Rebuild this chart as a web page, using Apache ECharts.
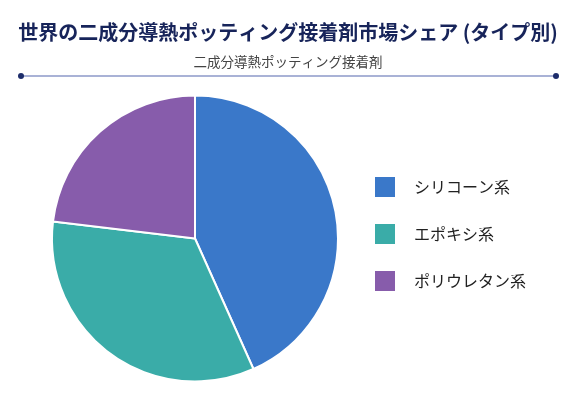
<!DOCTYPE html>
<html>
<head>
<meta charset="utf-8">
<script src="https://cdn.jsdelivr.net/npm/echarts@6/dist/echarts.min.js"></script>
<style>
  html, body { margin: 0; padding: 0; background: #fff; }
  #chart { width: 576px; height: 400px; }
</style>
</head>
<body>
<div id="chart"></div>
<script>
// データ
var categories = ['シリコーン系', 'エポキシ系', 'ポリウレタン系'];
var shares = [43.3, 33.6, 23.1];
var colors = ['#3a78c9', '#3aaca8', '#875cab'];

var chart = echarts.init(document.getElementById('chart'));

var pieData = categories.map(function (name, i) {
    return { name: name, value: shares[i], itemStyle: { color: colors[i] } };
});

var option = {
    backgroundColor: '#ffffff',
    textStyle: { fontFamily: 'Noto Sans CJK JP' },
    title: [{
        text: '世界の二成分導熱ポッティング接着剤市場シェア (タイプ別)',
        left: 'center',
        top: 17,
        textStyle: { fontSize: 20, fontWeight: 'bold', color: '#17245a', fontFamily: 'Noto Sans CJK JP' }
    }, {
        text: '二成分導熱ポッティング接着剤',
        left: 'center',
        top: 50,
        textStyle: { fontSize: 13.5, fontWeight: 'normal', color: '#444444', fontFamily: 'Noto Sans CJK JP' }
    }],
    graphic: [
        { type: 'line', shape: { x1: 21, y1: 76, x2: 556, y2: 76 }, style: { stroke: '#8c99c9', lineWidth: 1.5 } },
        { type: 'circle', shape: { cx: 21, cy: 76, r: 3 }, style: { fill: '#1d2d6b' } },
        { type: 'circle', shape: { cx: 556, cy: 76, r: 3 }, style: { fill: '#1d2d6b' } }
    ],
    legend: {
        orient: 'vertical',
        left: 373,
        top: 175,
        padding: 0,
        itemWidth: 22,
        itemHeight: 22,
        itemGap: 23,
        icon: 'rect',
        textStyle: { fontSize: 16, lineHeight: 22, color: '#222222', padding: [0, 0, 0, 13], fontFamily: 'Noto Sans CJK JP' },
        data: categories
    },
    series: [{
        type: 'pie',
        center: [195, 238.5],
        radius: 143,
        startAngle: 90,
        clockwise: true,
        silent: true,
        label: { show: false },
        labelLine: { show: false },
        itemStyle: { borderColor: '#ffffff', borderWidth: 2 },
        data: pieData
    }]
};

chart.setOption(option);
</script>
</body>
</html>
